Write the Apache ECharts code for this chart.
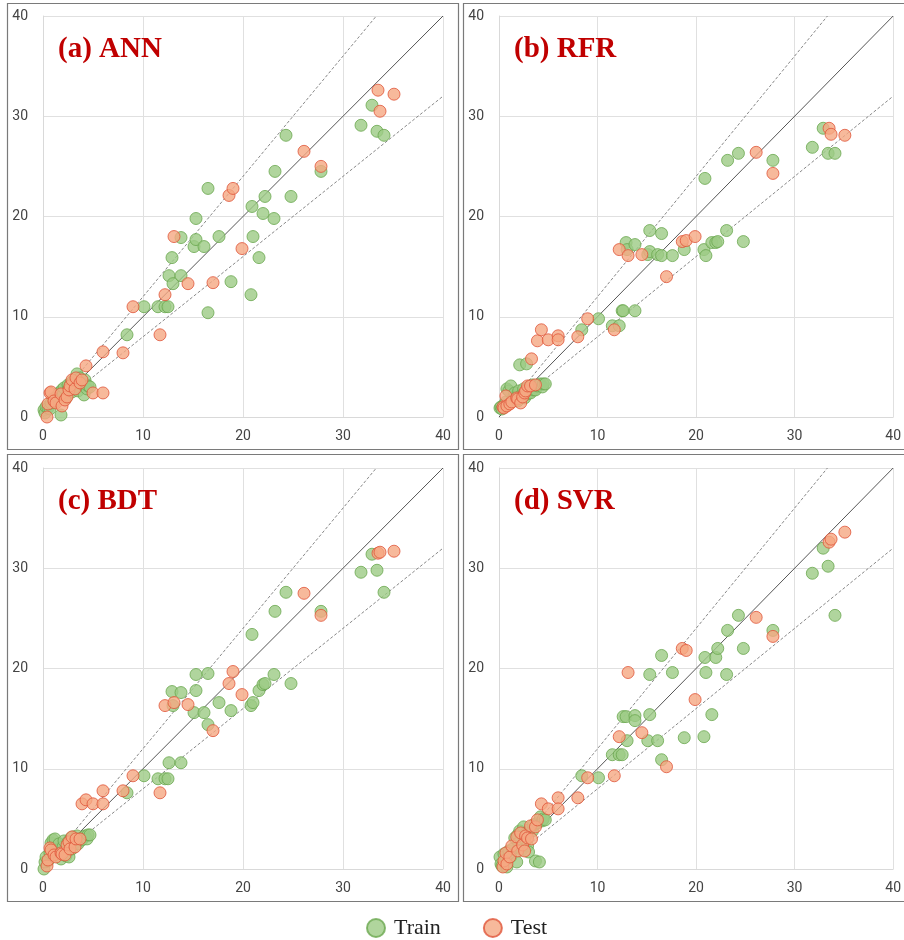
<!DOCTYPE html>
<html>
<head>
<meta charset="utf-8">
<script src="https://cdn.jsdelivr.net/npm/echarts@6/dist/echarts.min.js"></script>
<style>
html,body{margin:0;padding:0;background:#fff;}
#chart{width:904px;height:940px;}
</style>
</head>
<body>
<div id="chart"></div>
<script>
// ---------- DATA ----------
const panelTitles = ['(a) ANN', '(b) RFR', '(c) BDT', '(d) SVR'];
const axisTicks = [0, 10, 20, 30, 40];

// Actual values (x) shared by all models
const trainX = [0.1,0.2,0.3,0.5,0.7,0.8,1.0,1.2,1.4,1.6,1.8,1.9,2.0,2.1,2.3,2.5,2.6,2.8,2.9,3.0,3.2,3.4,3.5,3.7,3.9,4.1,4.2,4.4,4.5,4.7,
  8.4,10.1,11.5,12.2,12.5,12.6,12.9,13.0,13.8,13.8,15.1,15.3,15.3,16.1,16.5,16.5,17.6,18.8,20.8,20.9,21.0,21.6,22.0,22.2,23.1,23.2,24.3,24.8,27.8,31.8,32.9,33.4,34.1];
const testX = [0.4,0.5,0.7,0.8,1.1,1.3,1.8,1.9,2.2,2.4,2.6,2.7,2.9,3.2,3.3,3.7,3.9,
  4.3,5.0,6.0,6.0,8.0,9.0,11.7,12.2,13.1,14.5,17.0,18.6,19.0,19.9,26.1,27.8,33.5,33.7,35.1];

// Predicted values (y) per model
const annTrain = [0.7,0.4,1.0,0.9,0.8,1.4,1.8,1.5,2.1,2.4,0.2,2.7,2.2,2.9,1.9,3.2,2.8,3.4,2.5,3.6,3.0,4.3,2.6,3.9,3.3,2.2,3.7,2.8,3.1,3.0,
  8.2,11.0,11.0,11.0,11.0,14.1,15.9,13.3,17.9,14.1,17.0,19.8,17.7,17.0,22.8,10.4,18.0,13.5,12.2,21.0,18.0,15.9,20.3,22.0,19.8,24.5,28.1,22.0,24.5,29.1,31.1,28.5,28.1];
const annTest = [0.0,1.3,2.4,2.5,1.6,1.4,2.3,1.1,1.7,2.0,2.7,3.1,3.7,2.8,3.9,3.4,3.7,
  5.1,2.4,6.5,2.4,6.4,11.0,8.2,12.2,18.0,13.3,13.4,22.1,22.8,16.8,26.5,25.0,32.6,30.5,32.2];

const rfrTrain = [0.9,1.0,0.8,1.2,1.5,2.8,2.6,3.1,1.8,2.4,2.0,1.6,2.6,5.2,2.2,2.8,1.9,5.3,2.3,3.0,2.4,3.2,2.7,2.7,3.1,3.2,3.3,3.0,3.3,3.3,
  8.7,9.8,9.1,9.1,10.6,10.6,17.4,16.7,17.2,10.6,16.2,18.6,16.5,16.2,18.3,16.1,16.1,16.7,16.7,23.8,16.1,17.4,17.4,17.5,18.6,25.6,26.3,17.5,25.6,26.9,28.8,26.3,26.3];
const rfrTest = [1.0,0.9,2.1,1.1,1.3,1.5,1.9,1.8,1.4,2.0,2.4,2.6,3.1,3.1,5.8,3.2,7.6,
  8.7,7.7,8.1,7.7,8.0,9.8,8.7,16.7,16.1,16.2,14.0,17.5,17.6,18.0,26.4,24.3,28.8,28.2,28.1];

const bdtTrain = [0.0,0.7,1.2,0.8,1.6,2.6,2.9,3.0,1.9,2.5,1.0,1.5,2.2,2.8,1.3,2.7,1.2,3.1,2.0,3.2,2.6,3.3,2.5,3.0,2.9,3.2,3.3,3.0,3.4,3.4,
  7.6,9.3,9.0,9.0,9.0,10.6,17.7,16.3,17.6,10.6,15.6,19.4,17.8,15.6,19.5,14.4,16.6,15.8,16.3,23.4,16.6,17.8,18.4,18.5,19.4,25.7,27.6,18.5,25.7,29.6,31.4,29.8,27.6];
const bdtTest = [0.3,0.9,2.1,1.9,1.4,1.2,1.6,1.5,1.4,2.4,2.7,2.0,3.2,2.2,3.0,3.0,6.5,
  6.9,6.5,7.8,6.5,7.8,9.3,7.6,16.3,16.6,16.4,13.8,18.5,19.7,17.4,27.5,25.3,31.5,31.6,31.7];

const svrTrain = [1.2,0.5,0.3,1.5,0.9,0.2,1.8,1.2,2.0,3.1,0.7,3.4,2.6,3.8,1.9,4.2,3.0,3.6,2.3,1.7,4.0,3.8,4.4,0.8,4.6,0.7,5.2,4.8,5.0,4.9,
  9.3,9.1,11.4,11.4,11.4,15.2,15.2,12.8,15.3,14.8,12.8,19.4,15.4,12.8,21.3,10.9,19.6,13.1,13.2,21.1,19.6,15.4,21.1,22.0,19.4,23.8,25.3,22.0,23.8,29.5,32.0,30.2,25.3];
const svrTest = [0.2,0.8,1.6,0.5,1.2,2.3,3.2,1.8,3.6,2.4,1.8,3.3,3.1,4.3,3.0,4.2,4.9,
  6.5,6.0,7.1,6.0,7.1,9.1,9.3,13.2,19.6,13.6,10.2,22.0,21.8,16.9,25.1,23.2,32.6,32.9,33.6];

const trainY = [annTrain, rfrTrain, bdtTrain, svrTrain];
const testY = [annTest, rfrTest, bdtTest, svrTest];

// reference lines: y = slope * x  (perfect fit and +/-20 %)
const refSlopes = [1, 1.2, 0.8];
const refStart = [0, 3, 3];
const axisMax = 40;

// ---------- LAYOUT / STYLE ----------
const grids = [
  {left: 43, top: 16, width: 400, height: 401},
  {left: 499, top: 16, width: 400, height: 401},
  {left: 43, top: 468, width: 400, height: 401},
  {left: 499, top: 468, width: 400, height: 401}
];
const frames = [
  {x: 7.5, y: 3.5, w: 451, h: 446},
  {x: 463.5, y: 3.5, w: 450, h: 446},
  {x: 7.5, y: 454.5, w: 451, h: 447},
  {x: 463.5, y: 454.5, w: 450, h: 447}
];
const trainStyle = {color: '#9ccb84', borderColor: '#6aa84f', borderWidth: 1};
const testStyle = {color: '#f5a782', borderColor: '#e0553a', borderWidth: 1};

function zip(xs, ys) { return xs.map((x, i) => [x, ys[i]]); }

const xAxes = [], yAxes = [], series = [], graphics = [];
grids.forEach((g, k) => {
  const common = {
    type: 'value', gridIndex: k, min: 0, max: axisMax, interval: 10,
    axisLine: {show: true, lineStyle: {color: '#d9d9d9', width: 1}},
    axisTick: {show: false},
    splitLine: {show: true, lineStyle: {color: '#e0e0e0', width: 1}},
    axisLabel: {color: '#444', fontSize: 14, fontFamily: 'Roboto'}
  };
  xAxes.push(Object.assign({}, common, {axisLabel: Object.assign({}, common.axisLabel, {margin: 12})}));
  yAxes.push(Object.assign({}, common, {axisLabel: Object.assign({}, common.axisLabel, {margin: 15})}));

  refSlopes.forEach((s, j) => {
    const x0 = refStart[j];
    const x1 = Math.min(axisMax, axisMax / s);
    series.push({
      type: 'line', name: 'ref' + k + '_' + j, xAxisIndex: k, yAxisIndex: k,
      data: [[x0, s * x0], [x1, s * x1]], symbol: 'none', silent: true,
      lineStyle: j === 0 ? {color: '#555', width: 1} : {color: '#6a6a6a', width: 0.8, type: [3, 2]},
      z: 1
    });
  });
  series.push({
    type: 'scatter', name: 'Train', xAxisIndex: k, yAxisIndex: k,
    data: zip(trainX, trainY[k]), symbol: 'circle', symbolSize: 12,
    itemStyle: trainStyle, z: 3
  });
  series.push({
    type: 'scatter', name: 'Test', xAxisIndex: k, yAxisIndex: k,
    data: zip(testX, testY[k]), symbol: 'circle', symbolSize: 12,
    itemStyle: testStyle, z: 4
  });

  graphics.push({
    type: 'rect', shape: {x: frames[k].x, y: frames[k].y, width: frames[k].w, height: frames[k].h},
    style: {fill: 'none', stroke: '#7a7a7a', lineWidth: 1.2}, silent: true, z: 0
  });
  graphics.push({
    type: 'text', x: g.left + 15, y: g.top + 34,
    style: {text: panelTitles[k], fill: '#c00000', font: 'bold 29px "Liberation Serif", serif',
      textVerticalAlign: 'middle'}, z: 10
  });
});

const chart = echarts.init(document.getElementById('chart'), null, {renderer: 'canvas'});
chart.setOption({
  animation: false,
  backgroundColor: '#fff',
  grid: grids,
  xAxis: xAxes,
  yAxis: yAxes,
  series: series,
  graphic: graphics,
  legend: {
    data: ['Train', 'Test'],
    left: 361, top: 912,
    itemWidth: 18, itemHeight: 18, itemGap: 42,
    icon: 'circle',
    textStyle: {fontFamily: '"Liberation Serif", serif', fontSize: 22, color: '#222', padding: [0, 0, 0, 4]}
  }
});
</script>
</body>
</html>
